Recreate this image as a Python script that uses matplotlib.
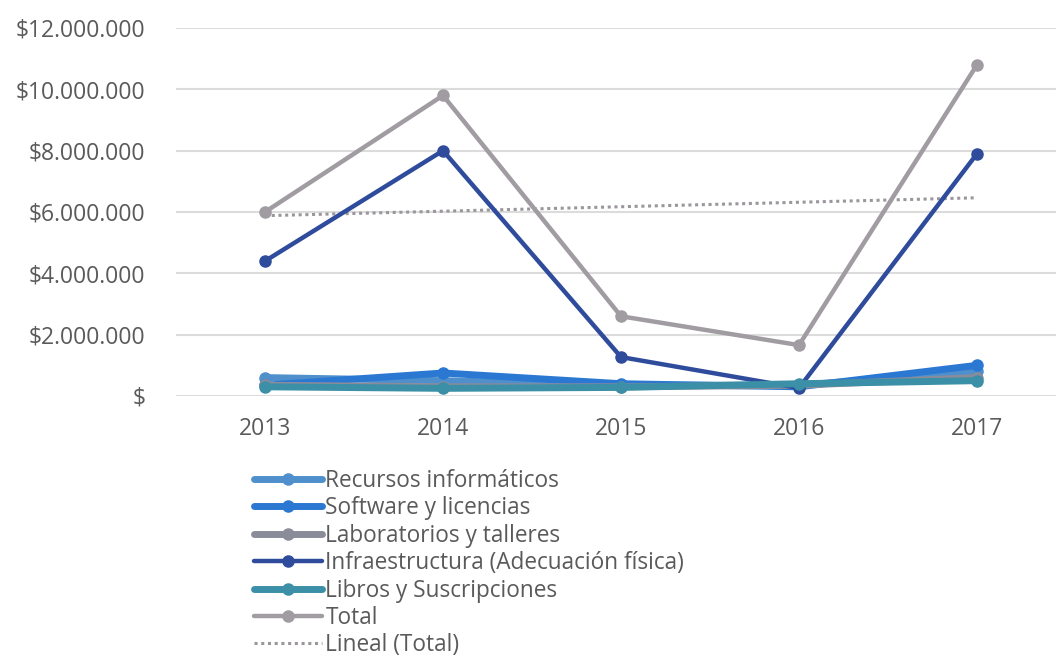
import numpy as np
import matplotlib.pyplot as plt
from matplotlib.ticker import FuncFormatter

plt.rcParams['font.family'] = ['Open Sans', 'DejaVu Sans']

years = ['2013', '2014', '2015', '2016', '2017']

recursos = [600000, 500000, 350000, 350000, 800000]
software = [350000, 750000, 400000, 300000, 1000000]
laboratorios = [350000, 300000, 300000, 350000, 600000]
infraestructura = [4400000, 8000000, 1270000, 260000, 7900000]
libros = [300000, 250000, 280000, 400000, 500000]
total = [6000000, 9800000, 2600000, 1660000, 10800000]

series = [
    ('Recursos informáticos', recursos, '#4f8fcb', 5),
    ('Software y licencias', software, '#2a78d2', 5),
    ('Laboratorios y talleres', laboratorios, '#8b8c9a', 5),
    ('Infraestructura (Adecuación física)', infraestructura, '#2f4b9c', 3.2),
    ('Libros y Suscripciones', libros, '#3b8fa6', 5),
    ('Total', total, '#a09ca2', 3.2),
]

x = np.arange(len(years))

fig = plt.figure(figsize=(10.56, 6.6), dpi=100)
ax = fig.add_axes([176 / 1056, 1 - 396 / 660, 1 - 176 / 1056, 368 / 660])

# draw the totals first so the detailed series sit on top
order = [5, 3, 2, 4, 0, 1]
handles = {}
for i in order:
    name, vals, color, lw = series[i]
    h, = ax.plot(x, vals, color=color, lw=lw, marker='o', ms=8,
                 solid_capstyle='round', label=name, zorder=3 + i * 0.1)
    handles[i] = h

# linear trend of the total
coef = np.polyfit(x, total, 1)
trend, = ax.plot(x, np.polyval(coef, x), color='#9a969c', lw=2.2,
                 ls=(0, (1, 1.2)), label='Lineal (Total)', zorder=2.5)

ax.set_xlim(-0.5, (1056 - 265) / 178)
ax.set_ylim(0, 12000000)
ax.set_yticks(np.arange(0, 12000001, 2000000))


def money(v, pos):
    if v == 0:
        return '$'
    return '$' + f'{int(v):,}'.replace(',', '.')


ax.yaxis.set_major_formatter(FuncFormatter(money))
ax.set_xticks(x)
ax.set_xticklabels(years)
ax.grid(axis='y', color='#dcdcdc', lw=1.5)
ax.set_axisbelow(True)
for s in ax.spines.values():
    s.set_visible(False)
ax.tick_params(length=0, labelsize=16.5, labelcolor='#5a5a5a')
ax.tick_params(axis='y', pad=22)
ax.tick_params(axis='x', pad=15)

leg_handles = [handles[i] for i in range(6)] + [trend]
fig.legend(handles=leg_handles, labels=[h.get_label() for h in leg_handles],
           loc='upper left', bbox_to_anchor=(254 / 1056, 1 - 469 / 660),
           frameon=False, fontsize=16.3, labelcolor='#5a5a5a',
           handlelength=3.0, handletextpad=0.15, labelspacing=0.15,
           borderaxespad=0, borderpad=0)

fig.savefig('out.png', dpi=100)
